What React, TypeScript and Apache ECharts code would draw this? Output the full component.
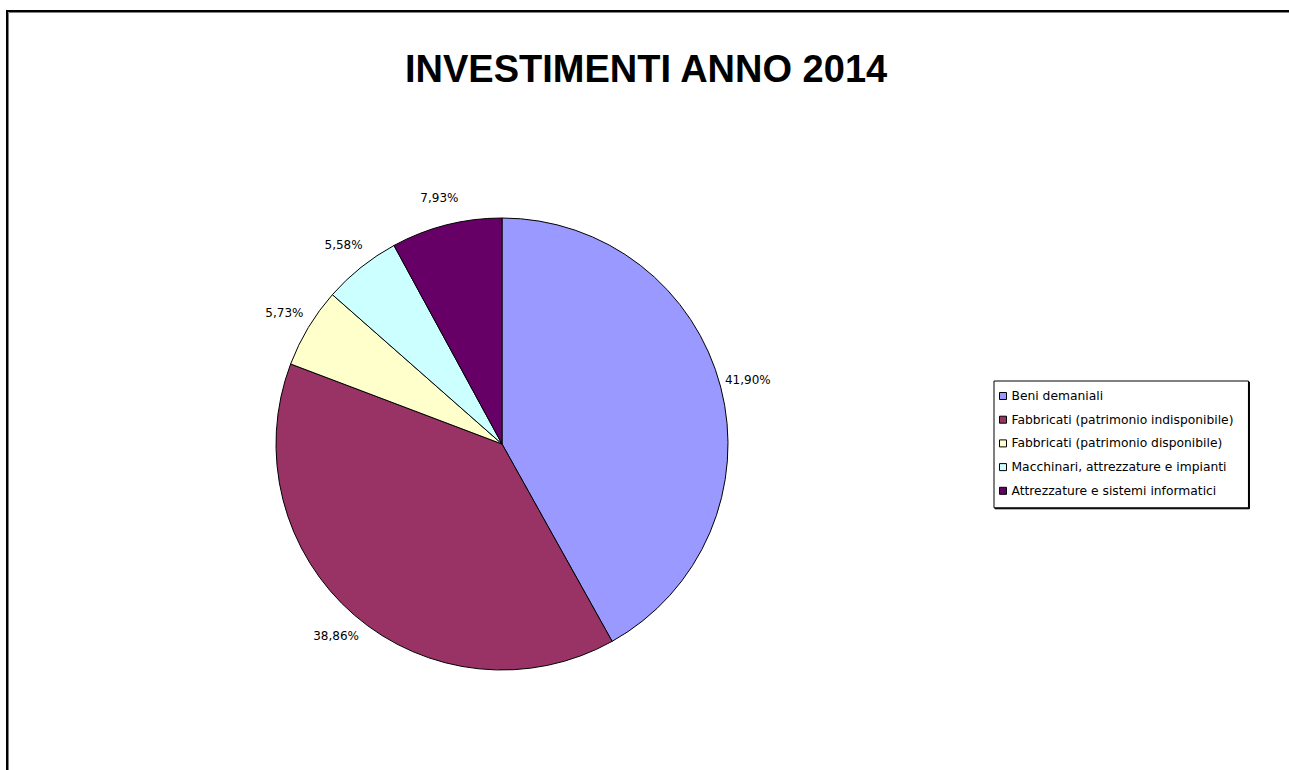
import React, { useEffect, useRef } from "react";
import * as echarts from "echarts";

const title = "INVESTIMENTI ANNO 2014";
const categories = [
  "Beni demaniali",
  "Fabbricati (patrimonio indisponibile)",
  "Fabbricati (patrimonio disponibile)",
  "Macchinari, attrezzature e impianti",
  "Attrezzature e sistemi informatici",
];
const values = [41.9, 38.86, 5.73, 5.58, 7.93];
const colors = ["#9999FF", "#993366", "#FFFFCC", "#CCFFFF", "#660066"];

const fmt = (v: number) => v.toFixed(2).replace(".", ",") + "%";

export default function App() {
  const ref = useRef<HTMLDivElement>(null);
  useEffect(() => {
    document.body.style.margin = "0";
    const chart = echarts.init(ref.current!, null, { renderer: "svg" });
    const data = categories.map((name, i) => ({ name, value: values[i] }));
    chart.setOption({
      animation: false,
      backgroundColor: "#fff",
      color: colors,
      title: {
        text: title,
        left: 405,
        top: 50,
        padding: 0,
        textStyle: {
          fontFamily: "Liberation Sans, Arial, sans-serif",
          fontWeight: "bold",
          fontSize: 38,
          color: "#000",
        },
      },
      legend: {
        orient: "vertical",
        left: 994,
        top: 381,
        data: categories,
        icon: "rect",
        itemWidth: 7,
        itemHeight: 7,
        itemGap: 11.7,
        padding: [9, 15, 11, 5],
        backgroundColor: "#fff",
        borderColor: "#000",
        borderWidth: 1,
        shadowColor: "#000",
        shadowBlur: 0,
        shadowOffsetX: 1,
        shadowOffsetY: 1,
        itemStyle: { borderColor: "#000", borderWidth: 1 },
        textStyle: {
          fontFamily: "DejaVu Sans, sans-serif",
          fontSize: 12.3,
          color: "#000",
        },
        selectedMode: false,
      },
      graphic: [
        {
          type: "rect",
          shape: { x: 7, y: 11, width: 1400, height: 1000 },
          style: { fill: "none", stroke: "#000", lineWidth: 2 },
          silent: true,
        },
        {
          type: "rect",
          shape: { x: 8.5, y: 12.5, width: 1400, height: 1000 },
          style: { fill: "none", stroke: "#808080", lineWidth: 1 },
          silent: true,
        },
      ],
      series: [
        {
          type: "pie",
          center: [502, 444],
          radius: [0, 226],
          startAngle: 90,
          clockwise: true,
          data,
          label: { show: false },
          labelLine: { show: false },
          itemStyle: { borderColor: "#000", borderWidth: 1 },
          emphasis: { disabled: true },
          silent: true,
        },
        {
          type: "pie",
          center: [502, 444],
          radius: [240, 262],
          startAngle: 90,
          clockwise: true,
          data,
          silent: true,
          emphasis: { disabled: true },
          itemStyle: { color: "rgba(0,0,0,0)", borderWidth: 0 },
          label: {
            show: true,
            position: "inside",
            rotate: 0,
            color: "#000",
            fontFamily: "DejaVu Sans, sans-serif",
            fontSize: 12,
            formatter: (p: any) => fmt(p.value),
          },
          labelLine: { show: false },
        },
      ],
    });
    return () => chart.dispose();
  }, []);
  return <div ref={ref} style={{ width: 1289, height: 770 }} />;
}
